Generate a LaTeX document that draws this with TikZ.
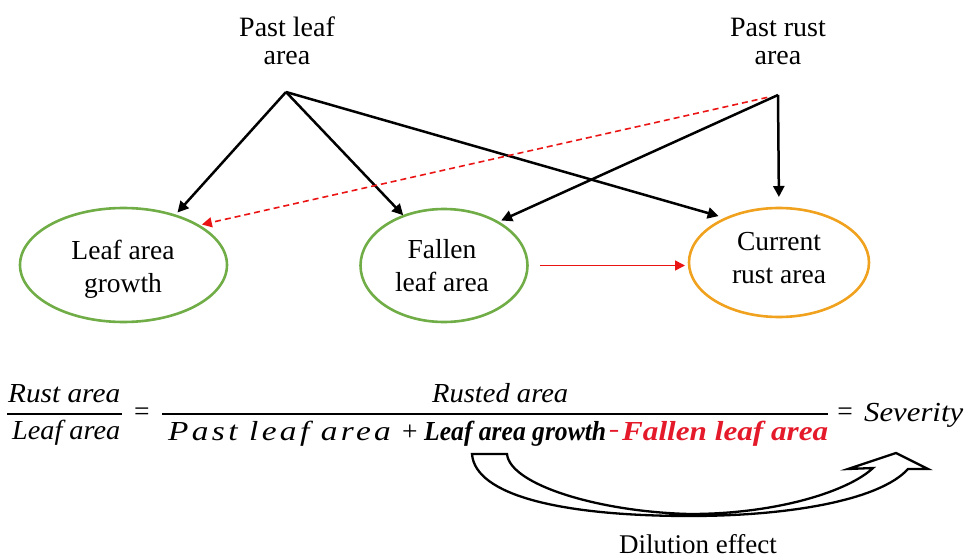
\documentclass[tikz,border=0pt]{standalone}
\usepackage{fontspec}
\setmainfont{Liberation Serif}
\usepackage{graphicx}
\usetikzlibrary{arrows.meta,shapes.geometric}

\definecolor{leafgreen}{RGB}{112,173,71}
\definecolor{rustorange}{RGB}{240,162,30}
\definecolor{fallred}{RGB}{228,26,42}
\definecolor{linkred}{RGB}{235,20,20}

% two centred lines whose reference point is the first baseline
\newcommand{\twolines}[2]{\begin{tabular}[t]{@{}c@{}}#1\\#2\end{tabular}}
% stretch a piece of text horizontally to a given width
\newcommand{\fitw}[2]{\resizebox{#1}{\height}{#2}}

\begin{document}
\begin{tikzpicture}[x=1pt,y=-1pt,
  ell/.style={ellipse, draw, line width=2.6pt, inner sep=0pt, outer sep=0pt},
  lbl/.style={inner sep=0pt, anchor=base, font=\fontsize{28}{28}\selectfont},
  ellbl/.style={inner sep=0pt, anchor=base, font=\fontsize{27.5}{33}\selectfont},
  eqtext/.style={inner sep=0pt, anchor=base west, font=\fontsize{27.5}{30}\selectfont},
  eqsign/.style={inner sep=0pt, anchor=base, font=\fontsize{27.5}{30}\selectfont},
  fracbar/.style={line width=1.4pt},
  link/.style={line width=2.5pt, -{Triangle[length=11pt,width=11pt]}},
  redlink/.style={line width=1.6pt, draw=linkred, -{Triangle[length=10pt,width=10pt]}},
]
\useasboundingbox (0,0) rectangle (967,559);

% source labels and the points the arrows leave from
\node[lbl] (pastleaf) at (287,37) {\twolines{Past leaf}{area}};
\node[lbl] (pastrust) at (778,37) {\twolines{Past rust}{area}};
\coordinate (pla) at (286,92);
\coordinate (pra) at (778,95);

% state ellipses
\node[ell, draw=leafgreen, minimum width=207pt, minimum height=114pt] (lag) at (123.5,265) {};
\node[ell, draw=leafgreen, minimum width=167pt, minimum height=113pt] (fla) at (444,265.5) {};
\node[ell, draw=rustorange, minimum width=180pt, minimum height=109pt] (cra) at (779,262.5) {};

\node[ellbl] (lagtxt) at (123,259) {\twolines{Leaf area}{growth}};
\node[ellbl] (flatxt) at (442,258) {\twolines{Fallen}{leaf area}};
\node[ellbl] (cratxt) at (779,250) {\twolines{Current}{rust area}};

% influences
\draw[link, shorten >=4pt] (pla) -- (lag.44.7);
\draw[link, shorten >=1pt] (pla) -- (fla.129);
\draw[link, shorten >=8pt] (pla) -- (cra.140.5);
\draw[link, shorten >=11pt] (pra) -- (cra.north);
\draw[link, shorten >=4pt] (pra) -- (fla.39.7);
\draw[redlink, dashed, dash pattern=on 6pt off 4pt, shorten <=11pt, shorten >=4pt] (pra) -- (lag.28.5);
\draw[redlink, shorten <=12.5pt, shorten >=4pt] (fla.east) -- (fla.east -| cra.west);

% severity equation
\node[eqtext] (rustarea) at (8,402) {\fitw{112pt}{\textit{Rust area}}};
\node[eqtext] (leafarea) at (12,439) {\fitw{108pt}{\textit{Leaf area}}};
\draw[fracbar] (7,414) -- (122,414);
\node[eqsign] (eqa) at (142,420.5) {=};
\node[eqtext] (rusted) at (432,402) {\fitw{136pt}{\textit{Rusted area}}};
\draw[fracbar] (162,414) -- (828,414);
\node[eqtext] (pastla) at (168,440) {\fitw{226pt}{\addfontfeature{LetterSpace=10}\textit{Past leaf area}}};
\node[eqsign] (plus) at (410,440) {+};
\node[eqtext] (growth) at (424,440) {\fitw{182pt}{\textbf{\textit{Leaf area growth}}}};
\node[eqsign, text=fallred] (minus) at (614,440) {\fitw{10pt}{\textbf{−}}};
\node[eqtext, text=fallred] (fallen) at (622,440) {\fitw{206pt}{\textbf{\textit{Fallen leaf area}}}};
\node[eqsign] (eqb) at (845,420.5) {=};
\node[eqtext] (severity) at (864,421) {\fitw{99pt}{\textit{Severity}}};

% curved block arrow for the dilution effect
\draw[line width=2.3pt, fill=white, line join=miter]
  (472,454) -- (507,454)
  .. controls (510,485) and (600,512) .. (690,514)
  .. controls (780,514) and (850,490) .. (873,468)
  -- (848,469) -- (896,453) -- (928,469) -- (908,469)
  .. controls (880,500) and (790,516) .. (690,516)
  .. controls (560,516) and (475,495) .. (472,454) -- cycle;
\node[inner sep=0pt, anchor=base, font=\fontsize{27}{30}\selectfont] (dilution) at (698,553) {Dilution effect};
\end{tikzpicture}
\end{document}
